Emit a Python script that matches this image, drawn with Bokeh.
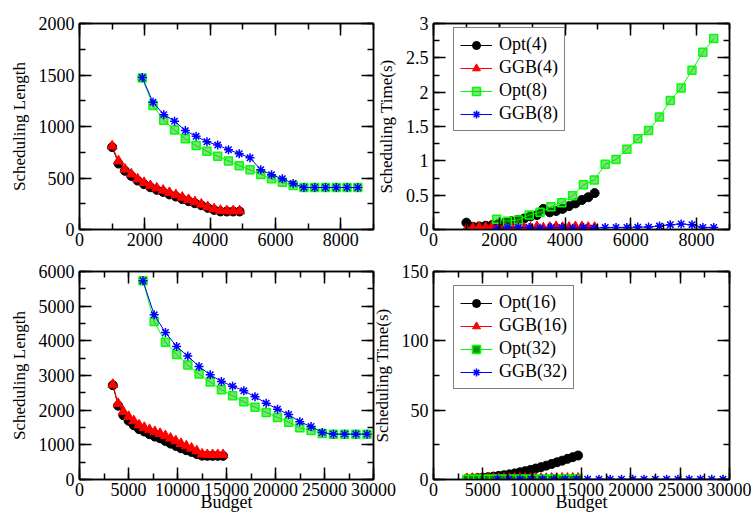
from bokeh.plotting import figure
from bokeh.models import (Range1d, LinearAxis, SingleIntervalTicker, CustomJSTickFormatter,
                          Legend, LegendItem)
from bokeh.layouts import row, column
from bokeh.embed import file_html
from bokeh.resources import INLINE

FONT = "Liberation Serif"

# ---------------- data ----------------
budget4 = [1000, 1195, 1390, 1585, 1780, 1975, 2170, 2365, 2560, 2755, 2950,
           3145, 3340, 3535, 3730, 3925, 4120, 4315, 4510, 4705, 4900]
len4_opt = [800, 640, 570, 520, 475, 440, 410, 385, 365, 340, 320,
            295, 275, 255, 235, 210, 190, 175, 175, 175, 175]
len4_ggb = [810, 665, 585, 538, 489, 455, 425, 402, 380, 358, 336,
            312, 290, 268, 245, 220, 200, 185, 180, 180, 180]
time4_opt = [0.10, 0.04, 0.045, 0.055, 0.065, 0.08, 0.10, 0.12, 0.14, 0.16, 0.19,
             0.21, 0.30, 0.25, 0.27, 0.30, 0.34, 0.38, 0.43, 0.47, 0.53]
time4_ggb = [0.0, 0.02, 0.03, 0.03, 0.04, 0.04, 0.02, 0.03, 0.04, 0.02, 0.02,
             0.04, 0.02, 0.03, 0.04, 0.03, 0.03, 0.04, 0.04, 0.03, 0.03]

budget8 = [1920, 2250, 2580, 2910, 3240, 3570, 3900, 4230, 4560, 4890, 5220,
           5550, 5880, 6210, 6540, 6870, 7200, 7530, 7860, 8190, 8520]
len8_opt = [1470, 1205, 1060, 965, 880, 815, 760, 712, 666, 620, 580,
            534, 492, 458, 427, 408, 408, 408, 408, 408, 408]
len8_ggb = [1475, 1235, 1115, 1052, 960, 905, 852, 820, 775, 736, 696,
            580, 532, 493, 447, 408, 408, 408, 408, 408, 408]
time8_opt = [0.15, 0.12, 0.14, 0.21, 0.25, 0.33, 0.39, 0.49, 0.65, 0.72, 0.95,
             1.02, 1.17, 1.32, 1.44, 1.64, 1.88, 2.06, 2.32, 2.58, 2.78]
time8_ggb = [0.01, 0.03, 0.03, 0.03, 0.02, 0.03, 0.03, 0.02, 0.03, 0.02, 0.03,
             0.03, 0.03, 0.035, 0.035, 0.05, 0.07, 0.08, 0.07, 0.03, 0.03]

budget16 = [3400, 3940, 4470, 5010, 5540, 6080, 6610, 7150, 7690, 8220, 8760,
            9290, 9830, 10360, 10900, 11430, 11970, 12510, 13040, 13580, 14110, 14650]
len16_opt = [2720, 2130, 1855, 1695, 1565, 1452, 1385, 1305, 1238, 1190, 1112,
             1035, 968, 902, 845, 795, 735, 688, 682, 682, 682, 682]
len16_ggb = [2740, 2190, 1960, 1815, 1690, 1572, 1500, 1436, 1378, 1325, 1262,
             1190, 1112, 1035, 968, 900, 822, 730, 715, 715, 715, 715]
time16_opt = [0.5, 0.7, 1.0, 1.3, 1.7, 2.1, 2.6, 3.1, 3.7, 4.4, 5.2,
              6.0, 6.9, 7.9, 8.9, 10.0, 11.2, 12.4, 13.6, 14.9, 16.1, 17.3]
time16_ggb = [0.6, 0.7, 0.6, 0.7, 0.8, 0.7, 0.6, 0.8, 0.7, 0.8, 0.7,
              0.8, 0.7, 0.9, 0.8, 0.7, 0.9, 0.8, 0.9, 0.8, 0.9, 0.9]
time32_opt = [0.1, 0.1, 0.1, 0.1, 0.1, 0.1, 0.1, 0.1, 0.1, 0.1, 0.1,
              0.1, 0.1, 0.1, 0.1, 0.1, 0.1, 0.1, 0.1, 0.1, 0.1, 0.1]

budget32 = [6480, 7620, 8770, 9910, 11050, 12200, 13340, 14480, 15620, 16770, 17910,
            19050, 20200, 21340, 22480, 23630, 24770, 25910, 27050, 28200, 29340]
len32_opt = [5730, 4555, 3960, 3605, 3300, 3040, 2810, 2590, 2415, 2240, 2087,
             1933, 1790, 1655, 1492, 1415, 1330, 1308, 1308, 1308, 1308]
len32_ggb = [5735, 4750, 4240, 3837, 3559, 3260, 3020, 2827, 2693, 2558, 2385,
             2203, 2030, 1875, 1664, 1529, 1356, 1308, 1308, 1308, 1308]
time32_ggb = [0.2, 0.2, 0.2, 0.2, 0.2, 0.2, 0.2, 0.2, 0.2, 0.2, 0.2,
              0.2, 0.2, 0.2, 0.2, 0.2, 0.2, 0.2, 0.2, 0.2, 0.2]

labels4 = ["Opt(4)", "GGB(4)", "Opt(8)", "GGB(8)"]
labels16 = ["Opt(16)", "GGB(16)", "Opt(32)", "GGB(32)"]

# ---------------- styles ----------------
STY = {
    "opt_a": dict(color="black", marker="circle", size=9, fill="black", fill_alpha=1.0, lw=1),
    "ggb_a": dict(color="#ff0000", marker="triangle", size=10, fill="#ff0000", fill_alpha=1.0, lw=1),
    "opt_b": dict(color="#00ff00", marker="square", size=8, fill="#00c000", fill_alpha=0.5, lw=1.5),
    "opt_c": dict(color="#00ff00", marker="square", size=8, fill="#008800", fill_alpha=0.9, lw=1.5),
    "ggb_b": dict(color="#0000ff", marker="asterisk", size=9, fill="#0000ff", fill_alpha=1.0, lw=1.5),
}

TICK_FS = "18px"
YLABEL_FS = "17px"
XLABEL_FS = "18px"
LEGEND_FS = "18px"


def style_axis(ax, show_labels, standoff, label_fs=YLABEL_FS):
    ax.major_tick_in = 12
    ax.major_tick_out = 0
    ax.minor_tick_in = 6
    ax.minor_tick_out = 0
    ax.axis_line_width = 1.5
    ax.major_tick_line_width = 1.5
    ax.minor_tick_line_width = 1.5
    ax.axis_line_color = "black"
    ax.major_tick_line_color = "black"
    ax.minor_tick_line_color = "black"
    if show_labels:
        ax.major_label_text_font = FONT
        ax.major_label_text_font_size = TICK_FS
        ax.major_label_text_color = "black"
        ax.major_label_standoff = standoff
        ax.axis_label_text_font = FONT
        ax.axis_label_text_font_size = label_fs
        ax.axis_label_text_font_style = "normal"
        ax.axis_label_text_color = "black"
    else:
        ax.formatter = CustomJSTickFormatter(code="return ''")
        ax.major_label_text_font_size = "0px"
        ax.major_label_standoff = 0


def make_fig(w, h, xr, yr, xint, yint, bl, br, bt, bb, xlabel, ylabel, shift_left):
    p = figure(width=w, height=h, x_range=Range1d(*xr), y_range=Range1d(*yr),
               output_backend="svg", toolbar_location=None,
               x_axis_type=None, y_axis_type=None,
               min_border_left=bl, min_border_right=br,
               min_border_top=bt, min_border_bottom=bb)
    p.background_fill_color = "white"
    if shift_left:
        p.border_fill_alpha = 0
        p.margin = (0, 0, 0, -shift_left)
    else:
        p.border_fill_color = "white"
    p.outline_line_color = "black"
    p.outline_line_width = 1.5

    def xt():
        return SingleIntervalTicker(interval=xint, num_minor_ticks=2)

    def yt():
        return SingleIntervalTicker(interval=yint, num_minor_ticks=2)

    below = LinearAxis(ticker=xt())
    style_axis(below, True, 3, XLABEL_FS)
    if xlabel:
        below.axis_label = xlabel
        below.axis_label_standoff = -7
    left = LinearAxis(ticker=yt())
    style_axis(left, True, 5, YLABEL_FS)
    left.axis_label = ylabel
    left.axis_label_standoff = 7
    if yint < 1:
        left.formatter = CustomJSTickFormatter(code="return String(Math.round(tick*100)/100)")
    above = LinearAxis(ticker=xt())
    style_axis(above, False, 0)
    right = LinearAxis(ticker=yt())
    style_axis(right, False, 0)
    p.add_layout(below, "below")
    p.add_layout(left, "left")
    p.add_layout(above, "above")
    p.add_layout(right, "right")
    return p


def add_series(p, x, y, key):
    s = STY[key]
    l = p.line(x, y, line_color=s["color"], line_width=1)
    m = p.scatter(x, y, marker=s["marker"], size=s["size"], line_color=s["color"],
                  line_width=s["lw"], fill_color=s["fill"], fill_alpha=s["fill_alpha"])
    return [l, m]


def add_legend(p, items, loc):
    lg = Legend(items=[LegendItem(label=lab, renderers=r) for lab, r in items], location=loc)
    lg.border_line_color = "black"
    lg.border_line_width = 1
    lg.background_fill_color = "white"
    lg.background_fill_alpha = 1
    lg.label_text_font = FONT
    lg.label_text_font_size = LEGEND_FS
    lg.label_text_color = "black"
    lg.glyph_width = 32
    lg.glyph_height = 20
    lg.label_height = 20
    lg.label_standoff = 7
    lg.padding = 6
    lg.spacing = 2
    lg.margin = 0
    p.add_layout(lg)


# ---------------- panels ----------------
# left figures: x 0..396 (frame 79..373); right figures start at 368 (frame 433..729)
p1 = make_fig(396, 256, (0, 9000), (0, 2000), 2000, 500, 79, 23, 23, 27,
              None, "Scheduling Length", 0)
add_series(p1, budget4, len4_opt, "opt_a")
add_series(p1, budget4, len4_ggb, "ggb_a")
add_series(p1, budget8, len8_opt, "opt_b")
add_series(p1, budget8, len8_ggb, "ggb_b")

p2 = make_fig(383, 256, (0, 9000), (0, 3), 2000, 0.5, 65, 22, 23, 27,
              None, "Scheduling Time(s)", 28)
r1 = add_series(p2, budget4, time4_opt, "opt_a")
r2 = add_series(p2, budget4, time4_ggb, "ggb_a")
r3 = add_series(p2, budget8, time8_opt, "opt_b")
r4 = add_series(p2, budget8, time8_ggb, "ggb_b")
add_legend(p2, list(zip(labels4, [r1, r2, r3, r4])), (20, 98))

p3 = make_fig(396, 263, (0, 30000), (0, 6000), 5000, 1000, 79, 23, 15, 40,
              "Budget", "Scheduling Length", 0)
add_series(p3, budget16, len16_opt, "opt_a")
add_series(p3, budget16, len16_ggb, "ggb_a")
add_series(p3, budget32, len32_opt, "opt_b")
add_series(p3, budget32, len32_ggb, "ggb_b")

p4 = make_fig(383, 263, (0, 30000), (0, 150), 5000, 50, 65, 22, 15, 40,
              "Budget", "Scheduling Time(s)", 28)
q1 = add_series(p4, budget16, time16_opt, "opt_a")
q2 = add_series(p4, budget16, time16_ggb, "ggb_a")
q3 = add_series(p4, budget16, time32_opt, "opt_c")
q4 = add_series(p4, budget32, time32_ggb, "ggb_b")
add_legend(p4, list(zip(labels16, [q1, q2, q3, q4])), (20, 90))

layout = column(row(p1, p2), row(p3, p4))

open("out.html", "w").write(file_html(layout, INLINE))
